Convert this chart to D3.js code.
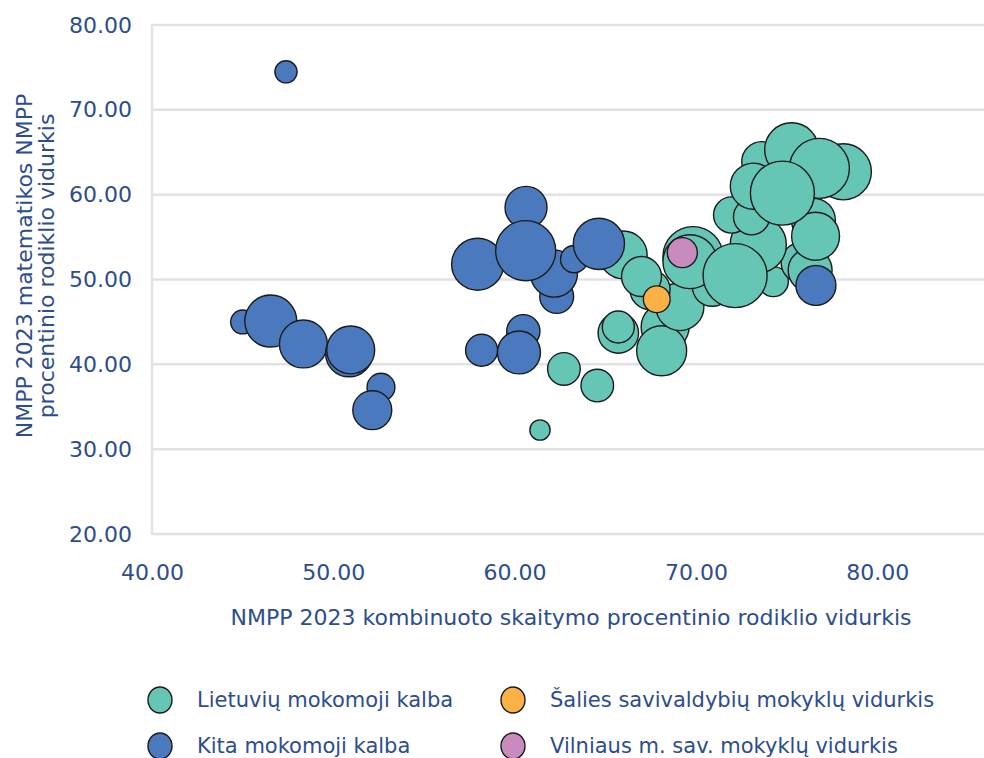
<!DOCTYPE html>
<html><head><meta charset="utf-8">
<script src="https://cdn.jsdelivr.net/npm/d3@7"></script>
<style>body{margin:0;background:#fff}svg{display:block}</style>
</head><body>
<svg id="c" width="984" height="758"></svg>
<script>
// Data: [reading avg, math avg, size]
const lietuviu = [
  [61.4, 32.26, 100],
  [62.72, 39.46, 260],
  [64.56, 37.5, 260],
  [65.72, 43.7, 400],
  [65.72, 44.4, 250],
  [65.99, 52.9, 560],
  [68.3, 44.4, 560],
  [68.11, 41.6, 610],
  [69.12, 46.8, 560],
  [67.47, 48.8, 390],
  [67.0, 50.35, 390],
  [70.9, 49.2, 390],
  [74.27, 49.75, 220],
  [75.8, 52.0, 390],
  [76.3, 51.1, 470],
  [73.44, 54.1, 770],
  [69.84, 52.7, 880],
  [69.67, 52.1, 710],
  [72.16, 50.46, 1000],
  [71.97, 57.6, 320],
  [73.07, 57.4, 320],
  [76.48, 57.0, 470],
  [76.6, 55.1, 560],
  [73.63, 63.9, 390],
  [73.17, 61.0, 520],
  [75.28, 65.3, 710],
  [78.13, 62.7, 770],
  [76.81, 63.1, 880],
  [74.77, 60.18, 1000]
];
const kita = [
  [47.39, 74.48, 120],
  [45.0, 45.0, 140],
  [46.55, 45.1, 660],
  [48.35, 42.4, 560],
  [50.87, 41.3, 540],
  [50.96, 41.7, 560],
  [52.63, 37.3, 190],
  [52.15, 34.6, 370],
  [60.63, 58.5, 430],
  [62.32, 48.0, 280],
  [57.96, 51.8, 660],
  [62.17, 50.7, 540],
  [60.61, 53.4, 880],
  [63.28, 52.4, 180],
  [64.65, 54.2, 640],
  [60.48, 43.9, 270],
  [58.18, 41.66, 250],
  [60.24, 41.4, 450],
  [76.62, 49.3, 390]
];
const salies = [[67.84, 47.67, 175]];
const vilniaus = [[69.25, 53.17, 220]];

const seriesNames = ["Lietuvių mokomoji kalba", "Kita mokomoji kalba", "Šalies savivaldybių mokyklų vidurkis", "Vilniaus m. sav. mokyklų vidurkis"];
const seriesColors = ["#66c6b5", "#4a7abd", "#fbb146", "#c98bbd"];
const xTicks = [40, 50, 60, 70, 80];
const yTicks = [20, 30, 40, 50, 60, 70, 80];
const xTitle = "NMPP 2023 kombinuoto skaitymo procentinio rodiklio vidurkis";
const yTitle = ["NMPP 2023 matematikos NMPP", "procentinio rodiklio vidurkis"];

const svg = d3.select("#c");
const font = "'DejaVu Sans', sans-serif";
const textColor = "#2c4d8e";
const x = d3.scaleLinear().domain([40, 86]).range([152, 986]);
const y = d3.scaleLinear().domain([20, 80]).range([534, 25]);
const r = d3.scaleSqrt().domain([0, 1000]).range([0, 32]);

// grid
svg.append("g").selectAll("line").data(yTicks).join("line")
  .attr("x1", 152).attr("x2", 984)
  .attr("y1", d => y(d)).attr("y2", d => y(d))
  .attr("stroke", "#e2e2e6").attr("stroke-width", 2.5);
svg.append("line").attr("x1", 152).attr("x2", 152).attr("y1", y(80) - 1).attr("y2", y(20) + 1)
  .attr("stroke", "#e2e2e6").attr("stroke-width", 2.5);

// axes labels
const yAxis = d3.axisLeft(y).tickValues(yTicks).tickFormat(d3.format(".2f")).tickSize(0).tickPadding(20);
const gy = svg.append("g").attr("transform", "translate(152,0)").call(yAxis);
gy.select(".domain").remove();
gy.selectAll("text").attr("font-family", font).attr("font-size", 22).attr("fill", textColor);

const xAxis = d3.axisBottom(x).tickValues(xTicks).tickFormat(d3.format(".2f")).tickSize(0).tickPadding(30);
const gx = svg.append("g").attr("transform", "translate(0,534)").call(xAxis);
gx.select(".domain").remove();
gx.selectAll("text").attr("font-family", font).attr("font-size", 22).attr("fill", textColor);

svg.append("text").attr("x", 571).attr("y", 625).attr("text-anchor", "middle")
  .attr("font-family", font).attr("font-size", 22).attr("fill", textColor).text(xTitle);
const yt = svg.append("text").attr("transform", "translate(32,266) rotate(-90)")
  .attr("text-anchor", "middle").attr("font-family", font).attr("font-size", 22).attr("fill", textColor);
yt.append("tspan").attr("x", 0).attr("dy", 0).text(yTitle[0]);
yt.append("tspan").attr("x", 0).attr("dy", 22).text(yTitle[1]);

// bubbles
const all = [lietuviu, kita, salies, vilniaus];
all.forEach((data, i) => {
  svg.append("g").selectAll("circle").data(data).join("circle")
    .attr("cx", d => x(d[0])).attr("cy", d => y(d[1])).attr("r", d => r(d[2]))
    .attr("fill", seriesColors[i]).attr("stroke", "#1b1b1b").attr("stroke-width", 1.4);
});

// legend
const legPos = [[160, 700], [160, 746], [513, 700], [513, 746]];
seriesNames.forEach((n, i) => {
  const g = svg.append("g").attr("transform", `translate(${legPos[i][0]},${legPos[i][1]})`);
  g.append("ellipse").attr("rx", 12).attr("ry", 13).attr("fill", seriesColors[i]).attr("stroke", "#1b1b1b").attr("stroke-width", 1.4);
  g.append("text").attr("x", 37).attr("y", 7).attr("font-family", font).attr("font-size", 21).attr("fill", textColor).text(n);
});
</script>
</body></html>
